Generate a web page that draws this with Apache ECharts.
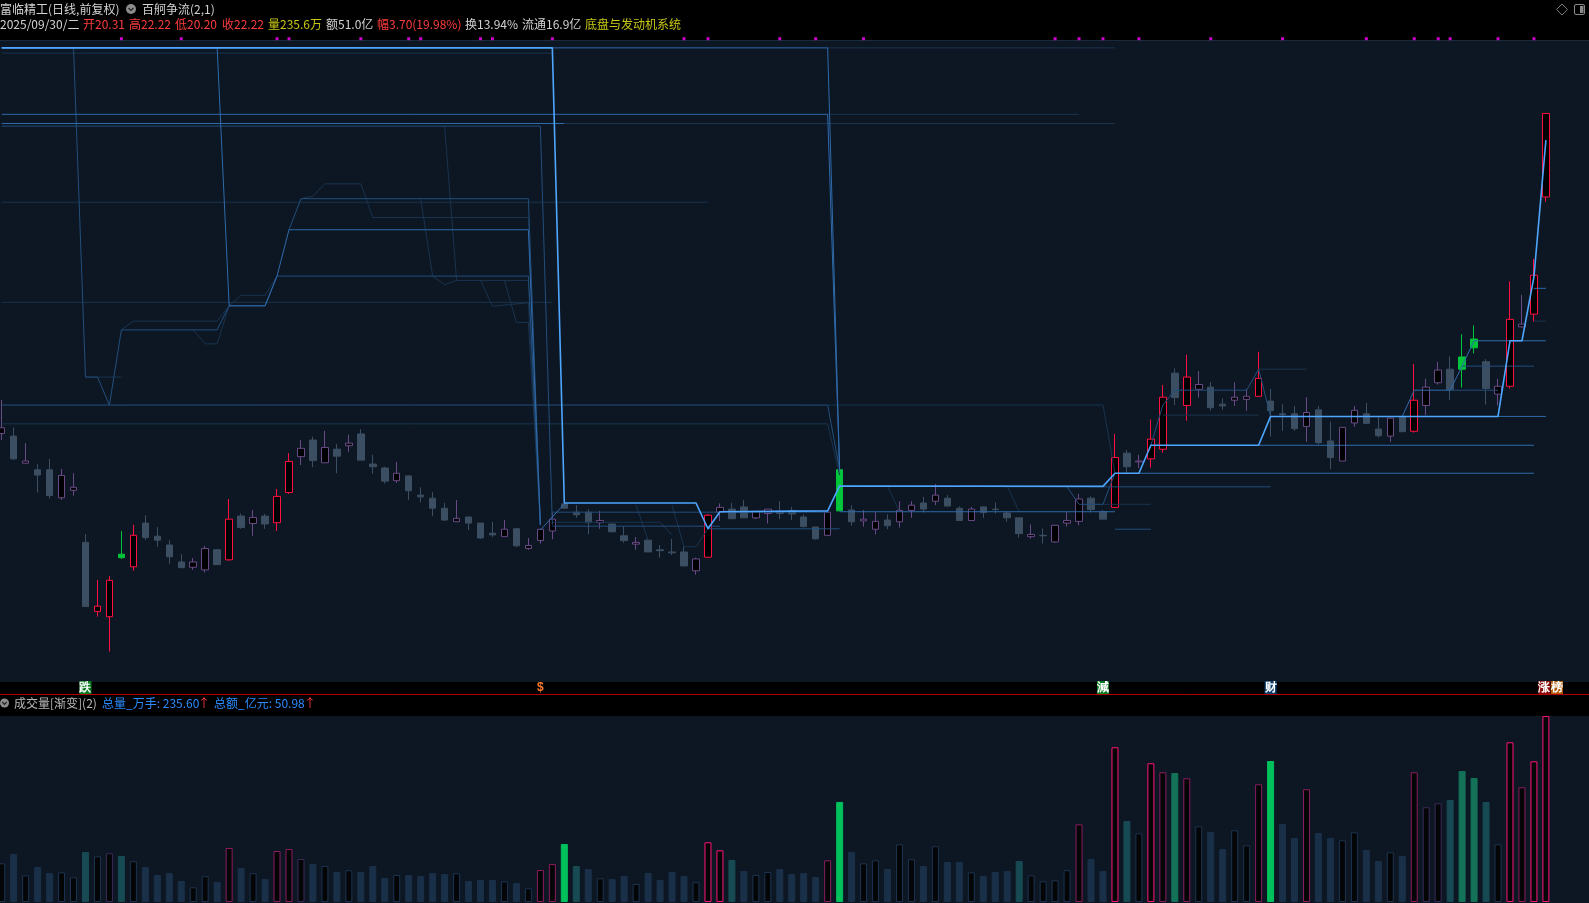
<!DOCTYPE html>
<html>
<head>
<meta charset="utf-8">
<title>富临精工</title>
<script src="https://cdn.jsdelivr.net/npm/echarts@6.0.0/dist/echarts.min.js"></script>
<style>
html,body{margin:0;padding:0;background:#000;overflow:hidden}
#chart{width:1589px;height:903px}
</style>
</head>
<body>
<div id="chart"></div>
<script>
// ---------------- data ----------------
const categories = [
 '03/26','03/27','03/28','03/31',
 '04/01','04/02','04/03','04/07','04/08','04/09','04/10','04/11','04/14','04/15','04/16','04/17','04/18','04/21','04/22','04/23','04/24','04/25','04/28','04/29','04/30',
 '05/06','05/07','05/08','05/09','05/12','05/13','05/14','05/15','05/16','05/19','05/20','05/21','05/22','05/23','05/26','05/27','05/28','05/29','05/30',
 '06/03','06/04','06/05','06/06','06/09','06/10','06/11','06/12','06/13','06/16','06/17','06/18','06/19','06/20','06/23','06/24','06/25','06/26','06/27','06/30',
 '07/01','07/02','07/03','07/04','07/07','07/08','07/09','07/10','07/11','07/14','07/15','07/16','07/17','07/18','07/21','07/22','07/23','07/24','07/25','07/28','07/29','07/30','07/31',
 '08/01','08/04','08/05','08/06','08/07','08/08','08/11','08/12','08/13','08/14','08/15','08/18','08/19','08/20','08/21','08/22','08/25','08/26','08/27','08/28','08/29',
 '09/01','09/02','09/03','09/04','09/05','09/08','09/09','09/10','09/11','09/12','09/15','09/16','09/17','09/18','09/19','09/22','09/23','09/24','09/25','09/26','09/29','09/30'
];

// [open, close, low, high]
const candles = [
 [14.90,15.03,14.75,15.67],[14.84,14.32,14.29,15.04],[14.22,14.27,14.22,14.68],[14.07,13.95,13.55,14.20],[14.07,13.48,13.41,14.32],
 [13.43,13.94,13.38,14.09],[13.60,13.67,13.48,13.99],[12.41,10.94,10.94,12.60],[10.83,10.95,10.71,11.55],[10.71,11.54,9.91,11.64],
 [12.06,12.14,12.03,12.67],[11.85,12.57,11.76,12.81],[12.85,12.52,12.46,13.03],[12.55,12.46,12.31,12.76],[12.35,12.08,11.92,12.46],
 [11.96,11.83,11.83,12.14],[11.84,11.96,11.78,12.05],[11.78,12.27,11.72,12.33],[12.24,11.90,11.90,12.24],[12.01,12.94,11.99,13.40],
 [13.01,12.75,12.72,13.07],[12.84,12.98,12.56,13.15],[13.01,12.83,12.72,13.06],[12.86,13.46,12.67,13.63],[13.55,14.26,13.52,14.45],
 [14.37,14.56,14.18,14.75],[14.75,14.28,14.13,14.83],[14.23,14.58,14.23,14.96],[14.54,14.38,13.99,14.66],[14.62,14.68,14.48,14.87],
 [14.89,14.29,14.29,15.00],[14.20,14.14,13.98,14.41],[14.11,13.81,13.75,14.14],[13.82,13.99,13.77,14.25],[13.93,13.59,13.38,13.94],
 [13.49,13.45,13.32,13.67],[13.42,13.19,13.01,13.56],[13.19,12.92,12.90,13.31],[12.88,12.96,12.88,13.38],[12.99,12.85,12.69,12.99],
 [12.85,12.51,12.49,12.85],[12.62,12.58,12.53,12.88],[12.54,12.71,12.54,12.92],[12.72,12.33,12.30,12.74],[12.27,12.34,12.24,12.51],
 [12.45,12.71,12.38,12.72],[12.67,12.94,12.48,13.08],[13.29,13.19,13.19,13.33],[13.10,13.04,12.97,13.26],[13.10,12.86,12.59,13.17],
 [12.86,12.91,12.72,13.13],[12.83,12.65,12.65,12.83],[12.56,12.45,12.40,12.78],[12.37,12.41,12.24,12.53],[12.46,12.19,12.19,12.49],
 [12.24,12.22,12.06,12.35],[12.19,12.17,12.12,12.49],[12.19,11.87,11.87,12.31],[11.76,12.03,11.67,12.06],[12.07,13.03,12.07,13.05],
 [13.10,13.21,12.90,13.30],[13.17,12.95,12.95,13.31],[13.22,12.97,12.97,13.38],[12.97,13.12,12.94,13.12],[13.07,13.17,12.84,13.17],
 [13.12,13.07,12.94,13.35],[13.14,13.06,12.92,13.22],[12.99,12.77,12.75,13.05],[12.76,12.49,12.47,12.76],[12.57,13.10,12.57,13.10],
 [13.13,14.07,13.13,14.29],[13.15,12.88,12.79,13.26],[12.90,12.94,12.77,13.15],[12.71,12.89,12.59,13.10],[12.92,12.79,12.71,13.05],
 [12.88,13.14,12.75,13.35],[13.14,13.26,12.97,13.35],[13.31,13.17,13.09,13.45],[13.35,13.49,13.26,13.74],[13.42,13.24,13.24,13.49],
 [13.19,12.91,12.91,13.23],[12.91,13.17,12.91,13.22],[13.22,13.09,12.97,13.23],[13.17,13.16,13.07,13.32],[13.08,12.97,12.88,13.11],
 [12.97,12.61,12.52,12.97],[12.54,12.59,12.49,12.82],[12.57,12.56,12.38,12.73],[12.42,12.80,12.40,12.80],[12.85,12.91,12.77,13.10],
 [12.89,13.40,12.80,13.52],[13.42,13.16,13.09,13.46],[13.11,12.94,12.94,13.15],[13.21,14.35,13.21,14.89],[14.45,14.14,14.00,14.52],
 [14.25,14.27,14.11,14.41],[14.32,14.77,14.12,15.22],[14.54,15.73,14.46,16.01],[16.28,15.72,15.55,16.39],[15.54,16.19,15.19,16.70],
 [15.91,16.02,15.72,16.33],[15.96,15.49,15.42,16.08],[15.57,15.53,15.44,15.70],[15.66,15.73,15.53,16.07],[15.68,15.75,15.42,15.92],
 [15.75,16.16,15.75,16.77],[15.64,15.42,14.83,15.92],[15.35,15.33,14.96,15.57],[15.35,15.01,14.96,15.53],[15.06,15.38,14.71,15.73],
 [15.44,14.69,14.65,15.53],[14.73,14.35,14.08,15.17],[14.27,15.04,14.27,15.04],[15.14,15.43,15.05,15.53],[15.35,15.13,15.13,15.60],
 [15.00,14.85,14.81,15.28],[14.84,15.25,14.71,15.25],[15.28,14.94,14.94,15.32],[14.95,15.66,14.92,16.49],[15.54,15.96,15.32,16.15],
 [16.06,16.35,16.02,16.54],[16.37,15.90,15.67,16.66],[16.37,16.65,15.95,17.17],[16.86,17.06,16.73,17.37],[16.54,15.93,15.56,16.60],
 [15.80,15.98,15.54,16.15],[15.98,17.51,15.93,18.38],[17.34,17.40,17.32,18.07],[17.63,18.52,17.46,18.89],[20.31,22.22,20.20,22.22]
];
// r = strong up (red hollow), p = up (purple hollow), g = down (grey), G = green signal
const candleKinds = (
 'p g p g g p p g r r ' + 'G r g g g g p p g r ' + 'g p g r r p g p g p ' + 'g g g p g g g g p g ' +
 'g g p g p p p g g g ' + 'p g g p g g g g p r ' + 'p g g p p g g g g p ' + 'G g p p g p p g p g ' +
 'g p g g g g p g p p ' + 'p g g r g p r r g r ' + 'p g g p p r g g g p ' + 'g g p p g g p g r p ' +
 'p g G G g p r p r r').trim().split(/\s+/);

// volume, 万手
const volumes = [
 49.0,60.8,33.8,44.3,36.7,37.6,31.3,63.3,57.9,61.7,
 58.3,51.6,44.3,34.2,36.7,26.6,18.6,32.6,25.3,68.4,
 43.1,36.4,29.1,64.6,67.1,54.5,48.1,45.6,38.0,40.2,
 38.0,45.6,30.4,34.2,34.2,32.9,36.7,35.5,36.4,26.6,
 27.9,27.9,26.2,24.1,17.4,40.5,48.1,73.5,45.6,41.8,
 30.0,29.1,32.9,22.8,36.7,27.9,38.0,32.9,25.0,75.6,
 65.5,53.2,39.3,34.2,38.0,41.8,35.5,36.7,31.7,52.8,
 126.7,63.3,49.0,52.8,41.8,73.1,54.1,45.6,70.6,50.7,
 50.7,37.6,32.9,38.0,39.3,51.9,33.8,26.2,27.5,40.2,
 98.4,54.5,39.3,196.0,102.6,87.0,175.7,164.3,163.4,156.7,
 95.9,88.7,67.1,90.8,71.8,149.1,178.6,98.8,81.1,142.8,
 87.4,81.1,78.2,88.3,65.9,51.9,63.0,58.3,164.3,120.0,
 125.0,129.2,165.9,157.1,126.7,73.1,202.3,145.3,178.2,235.6
];
// h hollow, b blue, t teal, T teal-green, G green, m dark magenta, p dark purple, M bright magenta
const volumeKinds = (
 'h b h b b h h t h p ' + 't h b b b b h h b m ' + 'b h b m m p b h b h ' + 'b b b h b b b b h b ' +
 'b b h b h m m G t b ' + 'h b b h b b b b h M ' + 'M t b h h b b b b m ' + 'G b h h b h h b h b ' +
 'b h b b b t h h h h ' + 'm b b M t h M m T m ' + 'h b b h h m G b b m ' + 'b b h h b b h b m p ' +
 'p t T T t h M m M M').trim().split(/\s+/);

// 百舸争流 indicator lines: [day index, price]
const brightLines = [
 [[0,23.72],[46,23.72],[47,13.31],[58,13.31],[59,12.72],[60,13.11],[69,13.13],[70,13.70],[92,13.69],[93,13.99],[95,13.99],[96,14.63],[105,14.63],[106,15.29],[125,15.29],[126,17.02],[127,17.02],[128,18.48],[129,21.61]]
];
const mediumLines = [
 [[0,22.20],[69,22.20],[70,14.04]],
 [[46,23.72],[69,23.72],[70,14.07]],
 [[0,21.99],[47,21.99]],
 [[0,23.72],[18,23.72],[19,17.82],[22,17.82],[23,18.50],[24,19.56],[44,19.56],[45,12.81]],
 [[45,12.69],[47,13.29]],
 [[70,13.11],[93,13.11]],
 [[95,13.99],[128,13.99]],
 [[105,14.63],[128,14.63]],
 [[125,15.29],[129,15.29]],
 [[117,15.29],[118,15.89],[121,15.89],[122,16.44],[123,17.02],[129,17.02]],
 [[128,18.22],[129,18.22]]
];
const dimLines = [
 [[0,21.93],[45,21.93],[46,12.81]],
 [[0,23.72],[6,23.72],[7,16.19],[8,16.19],[9,15.55],[10,17.27],[18,17.27],[19,17.82],[22,17.82],[23,18.50],[44,18.50],[45,12.81]],
 [[24,19.56],[25,20.27],[44,20.27],[45,12.81]],
 [[0,15.55],[69,15.55],[70,14.07]],
 [[46,12.78],[60,12.78]],
 [[46,13.10],[69,13.10]],
 [[59,12.72],[70,12.72]],
 [[92,13.68],[106,13.68]],
 [[93,12.71],[96,12.71]],
 [[89,13.68],[90,13.28],[92,13.28],[93,13.99]],
 [[96,14.63],[97,15.55],[98,15.89],[104,15.89],[105,16.37],[106,15.29]],
 [[121,15.89],[125,15.89]],
 [[122,16.44],[128,16.44]]
];
const faintLines = [
 [[69,23.72],[93,23.72]],
 [[47,21.99],[93,21.99]],
 [[69,22.20],[90,22.20]],
 [[25,20.27],[26,20.33],[27,20.61],[30,20.61],[31,19.84],[44,19.84],[45,12.81]],
 [[0,20.19],[59,20.19]],
 [[69,15.55],[92,15.55],[93,13.99]],
 [[0,15.12],[69,15.12],[70,13.95]],
 [[0,17.90],[46,17.90]],
 [[35,20.27],[36,18.50],[37,18.30],[38,18.40],[44,18.40],[45,12.81]],
 [[37,21.93],[38,18.40]],
 [[40,18.40],[41,17.81],[44,17.89],[45,12.81]],
 [[42,18.40],[43,17.44],[44,17.44],[45,12.81]],
 [[10,17.27],[11,17.47],[18,17.47],[19,17.82]],
 [[16,17.27],[17,16.95],[18,16.95],[19,17.82]],
 [[19,17.82],[20,18.06],[22,18.06],[23,18.50]],
 [[7,16.19],[10,16.19]],
 [[0,23.60],[46,23.60]],
 [[46,12.87],[55,12.87],[56,12.58]],
 [[53,13.26],[54,12.46]],
 [[56,13.26],[57,12.31],[58,12.31],[59,12.72]],
 [[92,13.28],[96,13.28]],
 [[105,16.37],[109,16.37]],
 [[97,15.32],[105,15.32]],
 [[128,17.47],[129,17.47]],
 [[70,13.70],[74,13.70],[75,13.11]],
 [[80,13.70],[84,13.70],[85,13.11]]
];

// magenta signal dots on the top edge (day indices)
const signalDays = [10,15,23,24,30,34,35,40,41,46,57,59,65,68,72,88,90,92,95,101,107,114,118,120,121,125,128];
const signalLevel = 23.93;

// event markers under the price panel
const eventMarks = [
 {day:7,   text:'跌', kind:'greenBox'},
 {day:45,  text:'$',  kind:'orange'},
 {day:92,  text:'減', kind:'greenBox'},
 {day:106, text:'财', kind:'blueBox'},
 {day:129, text:'涨', kind:'redBox'},
 {day:129, text:'榜', kind:'brownBox', after:true}
];

// header texts
const titleLine = [
 {t:'富临精工(日线,前复权)', c:'label'},
 {t:'百舸争流(2,1)', c:'label'}
];
const quoteLine = [
 {t:'2025/09/30/二', c:'label'}, {t:'开20.31', c:'red'}, {t:'高22.22', c:'red'}, {t:'低20.20', c:'red'},
 {t:'收22.22', c:'red'}, {t:'量235.6万', c:'yellow'}, {t:'额51.0亿', c:'label'}, {t:'幅3.70(19.98%)', c:'red'},
 {t:'换13.94%', c:'label'}, {t:'流通16.9亿', c:'label'}, {t:'底盘与发动机系统', c:'yellow'}
];
const volumeTitle = [
 {t:'成交量[渐变](2)', c:'grey'}, {t:'总量_万手: 235.60', c:'blue'}, {t:'↑', c:'red'},
 {t:'总额_亿元: 50.98', c:'blue'}, {t:'↑', c:'red'}
];

// ---------------- styles / layout ----------------
const FONT = '12px "Noto Sans CJK SC", "Noto Sans", sans-serif';
const PANEL = '#0c1723';
const textColors = {label:'#d2d2d2', red:'#ff3c3c', yellow:'#c8c814', grey:'#b8b8b8', blue:'#2a8cff'};
const candleStyle = {
 r:{fill:'#000000', stroke:'#ff1040'},
 p:{fill:'#000000', stroke:'#6a4a86'},
 g:{fill:'#3c4e61', stroke:'#3c4e61'},
 G:{fill:'#00c43a', stroke:'#00c43a'}
};
const volStyle = {
 h:{fill:'#030507', stroke:'#1e3350'},
 b:{fill:'#1a3049', stroke:'#1a3049'},
 t:{fill:'#174a53', stroke:'#174a53'},
 T:{fill:'#137258', stroke:'#137258'},
 G:{fill:'#00c05c', stroke:'#00c05c'},
 m:{fill:'#030507', stroke:'#8c1c5e'},
 p:{fill:'#030507', stroke:'#3c2a58'},
 M:{fill:'#030507', stroke:'#ff1478'}
};
const markStyle = {
 greenBox:{fill:'#ffffff', bg:'#0a7a22'},
 blueBox:{fill:'#ffffff', bg:'#0b3c6c'},
 redBox:{fill:'#ffffff', bg:'#8c0a0a'},
 brownBox:{fill:'#ffffff', bg:'#b05a08'},
 orange:{fill:'#ff7a30', bg:null}
};
const lineTiers = [
 {lines:faintLines,  color:'#19334f', width:1},
 {lines:dimLines,    color:'#234e7c', width:1},
 {lines:mediumLines, color:'#2f6aab', width:1},
 {lines:brightLines, color:'#4ea6ff', width:1.6}
];

// x axis: one unit per trading day, 11.97 px per day, first day centred at x≈1.7
const X_MIN = -0.142, X_MAX = 132.6;

const kData = candles.map((v,i)=>{
 const s = candleStyle[candleKinds[i]];
 return {value:[i].concat(v), itemStyle:{color:s.fill, color0:s.fill, borderColor:s.stroke, borderColor0:s.stroke, borderWidth:1}};
});
const vData = volumes.map((v,i)=>{
 const s = volStyle[volumeKinds[i]];
 return {value:[i, v], itemStyle:{color:s.fill, borderColor:s.stroke, borderWidth:1}};
});

const series = [
 {type:'candlestick', xAxisIndex:0, yAxisIndex:0, data:kData, encode:{x:0, y:[1,2,3,4]}, barWidth:7, z:2},
 {type:'bar', xAxisIndex:1, yAxisIndex:1, data:vData, encode:{x:0, y:1}, barWidth:7, z:2},
 {type:'scatter', xAxisIndex:0, yAxisIndex:0, data:signalDays.map(d=>[d, signalLevel]),
  symbol:'rect', symbolSize:[3,3], itemStyle:{color:'#ff00ff'}, clip:false, z:6, silent:true}
];
lineTiers.forEach((tier,ti)=>{
 tier.lines.forEach(pts=>{
  series.push({type:'line', xAxisIndex:0, yAxisIndex:0, data:pts, symbol:'none', showSymbol:false,
   lineStyle:{color:tier.color, width:tier.width}, z:3+ti*0.1, silent:true, clip:false});
 });
});

const chart = echarts.init(document.getElementById('chart'), null, {renderer:'canvas'});
chart.setOption({
 backgroundColor:'#000000',
 animation:false,
 grid:[
  {left:0, right:0, top:40, height:630},
  {left:0, right:0, top:716, height:186}
 ],
 xAxis:[
  {type:'value', gridIndex:0, min:X_MIN, max:X_MAX, show:false, splitLine:{show:false}},
  {type:'value', gridIndex:1, min:X_MIN, max:X_MAX, show:false, splitLine:{show:false}}
 ],
 yAxis:[
  {type:'value', gridIndex:0, min:9.49, max:23.9, show:false, splitLine:{show:false}},
  {type:'value', gridIndex:1, min:0, max:235.6, show:false, splitLine:{show:false}}
 ],
 series
});

// ---------------- decorations (header, strips) ----------------
function txt(x, y, s, fill, extra){
 return Object.assign({type:'text', x:x, y:y, z:20, silent:true,
  style:Object.assign({text:s, fill:fill, font:FONT, textVerticalAlign:'middle', verticalAlign:'middle'}, extra||{})});
}
const g = [];
g.push({type:'rect', z:0, silent:true, shape:{x:0, y:40, width:1589, height:642}, style:{fill:PANEL}});
g.push({type:'rect', z:0, silent:true, shape:{x:0, y:716, width:1589, height:187}, style:{fill:PANEL}});
g.push({type:'line', z:1, silent:true, shape:{x1:0, y1:40.5, x2:1589, y2:40.5}, style:{stroke:'#1b2a3a', lineWidth:1}});
g.push({type:'line', z:20, silent:true, shape:{x1:0, y1:694.5, x2:1589, y2:694.5}, style:{stroke:'#b00000', lineWidth:1}});

// title line
const titleX = [0, 142];
titleLine.forEach((s,k)=>g.push(txt(titleX[k], 9, s.t, textColors[s.c])));
g.push({type:'circle', z:20, silent:true, shape:{cx:131, cy:9, r:5}, style:{fill:'#8c8c8c'}});
g.push({type:'polyline', z:21, silent:true, shape:{points:[[128.5,8],[131,10.5],[133.5,8]]}, style:{stroke:'#222', lineWidth:1.2, fill:null}});
// quote line
const quoteX = [0, 83, 129, 175, 222, 268, 326, 377, 465, 522, 585];
quoteLine.forEach((s,k)=>g.push(txt(quoteX[k], 24.5, s.t, textColors[s.c])));
// top-right icons
g.push({type:'polygon', z:20, silent:true, shape:{points:[[1562,4],[1567.5,9.5],[1562,15],[1556.5,9.5]]}, style:{fill:null, stroke:'#7a7a7a', lineWidth:1}});
g.push({type:'rect', z:20, silent:true, shape:{x:1574.5, y:4.5, width:10, height:10, r:1.5}, style:{fill:null, stroke:'#8a8a8a', lineWidth:1}});
g.push({type:'rect', z:20, silent:true, shape:{x:1580, y:6, width:3.5, height:7}, style:{fill:'#8a8a8a'}});
// volume title
const volX = [14, 102, 198, 214, 304];
g.push({type:'circle', z:20, silent:true, shape:{cx:4.5, cy:703, r:4.5}, style:{fill:'#8c8c8c'}});
g.push({type:'polyline', z:21, silent:true, shape:{points:[[2.3,702],[4.5,704.3],[6.7,702]]}, style:{stroke:'#222', lineWidth:1.2, fill:null}});
volumeTitle.forEach((s,k)=>g.push(txt(volX[k], 703, s.t, textColors[s.c])));

// event markers at day positions
eventMarks.forEach(m=>{
 const cx = chart.convertToPixel({xAxisIndex:0}, m.day) + (m.after ? 11 : (m.day===129 ? -1.5 : 0));
 const st = markStyle[m.kind];
 const extra = {textAlign:'center', align:'center', fontWeight:'bold'};
 if (st.bg) { extra.backgroundColor = st.bg; extra.padding = [1,0,0,0]; }
 g.push(txt(cx, 687.5, m.text, st.fill, extra));
});

chart.setOption({graphic:g});
</script>
</body>
</html>
